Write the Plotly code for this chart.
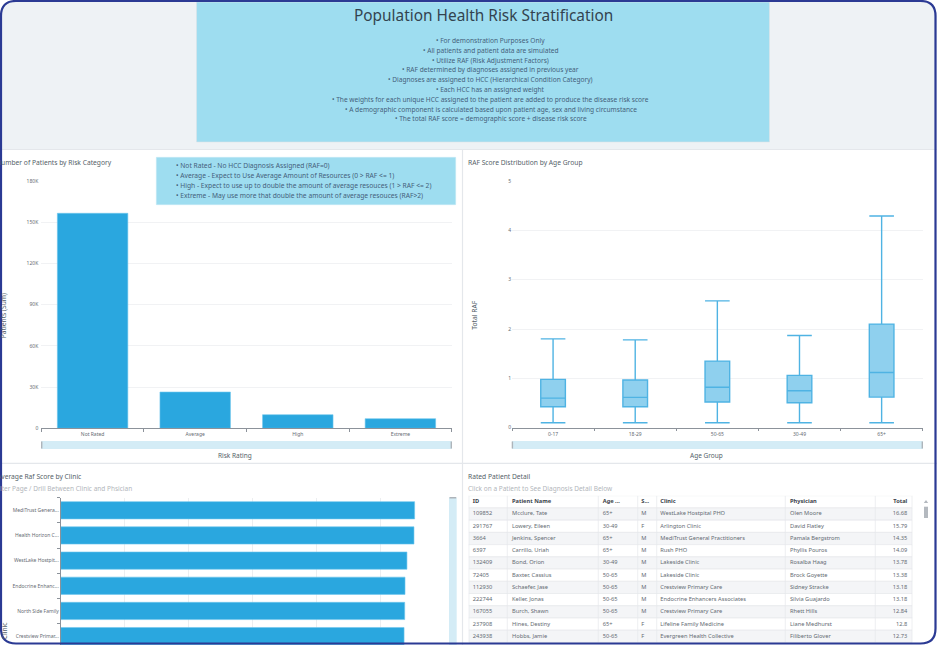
import plotly.graph_objects as go

W, H = 937, 645
FONT = "Noto Sans"

# ---------- data ----------
risk_categories = ["Not Rated", "Average", "High", "Extreme"]
risk_counts = [156500, 26400, 9900, 7000]
risk_ticks = [0, 30000, 60000, 90000, 120000, 150000, 180000]
risk_ticktext = ["0", "30K", "60K", "90K", "120K", "150K", "180K"]

age_groups = ["0-17", "18-29", "50-65", "30-49", "65+"]
raf_lower = [0.10, 0.10, 0.10, 0.10, 0.10]
raf_q1 = [0.425, 0.425, 0.52, 0.507, 0.62]
raf_median = [0.60, 0.615, 0.82, 0.75, 1.12]
raf_q3 = [0.98, 0.967, 1.35, 1.06, 2.10]
raf_upper = [1.80, 1.78, 2.57, 1.87, 4.29]

clinics = ["MediTrust Genera...", "Health Horizon C...", "WestLake Hostpit...",
           "Endocrine Enhanc...", "North Side Family", "Crestview Primar..."]
clinic_raf = [1.106, 1.104, 1.082, 1.076, 1.075, 1.073]

table_headers = ["ID", "Patient Name", "Age ...", "S...", "Clinic", "Physician", "Total"]
patient_ids = ["109852", "291767", "3664", "6397", "132409", "72405", "112930", "222744", "167055", "237908", "243938"]
patient_names = ["Mcclure, Tate", "Lowery, Eileen", "Jenkins, Spencer", "Carrillo, Uriah", "Bond, Orion", "Baxter, Cassius",
                 "Schaefer, Jase", "Keller, Jonas", "Burch, Shawn", "Hines, Destiny", "Hobbs, Jamie"]
patient_ages = ["65+", "30-49", "65+", "65+", "30-49", "50-65", "50-65", "50-65", "50-65", "65+", "50-65"]
patient_sex = ["M", "F", "M", "M", "M", "M", "M", "M", "M", "F", "F"]
patient_clinics = ["WestLake Hostpital PHO", "Arlington Clinic", "MediTrust General Practitioners", "Rush PHO",
                   "Lakeside Clinic", "Lakeside Clinic", "Crestview Primary Care", "Endocrine Enhancers Associates",
                   "Crestview Primary Care", "Lifeline Family Medicine", "Evergreen Health Collective"]
patient_physicians = ["Olen Moore", "David Flatley", "Pamala Bergstrom", "Phyllis Pouros", "Rosalba Haag", "Brock Goyette",
                      "Sidney Stracke", "Silvia Guajardo", "Rhett Hills", "Liane Medhurst", "Filiberto Glover"]
patient_totals = ["16.68", "15.79", "14.35", "14.09", "13.78", "13.38", "13.18", "13.18", "12.84", "12.8", "12.73"]

header_title = "Population Health Risk Stratification"
header_notes = [
    "• For demonstration Purposes Only",
    "• All patients and patient data are simulated",
    "• Utilize RAF (Risk Adjustment Factors)",
    "• RAF determined by diagnoses assigned in previous year",
    "• Diagnoses are assigned to HCC (Hierarchical Condition Category)",
    "• Each HCC has an assigned weight",
    "• The weights for each unique HCC assigned to the patient are added to produce the disease risk score",
    "• A demographic component is calculated based upon patient age, sex and living circumstance",
    "• The total RAF score = demographic score + disease risk score",
]
risk_notes = [
    "• Not Rated - No HCC Diagnosis Assigned (RAF=0)",
    "• Average - Expect to Use Average Amount of Resources (0 > RAF <= 1)",
    "• High - Expect to use up to double the amount of average resouces (1 > RAF <= 2)",
    "• Extreme - May use more that double the amount of average resouces (RAF>2)",
]

# ---------- style ----------
BAR = "#2AA7DF"
BAR_EDGE = "#6FC6EC"
BOX_FILL = "#8FD0EE"
BOX_LINE = "#4FB3E3"
NOTE_BG = "#9EDDF0"
PAGE_BG = "#EEF2F5"
DIVIDER = "#E4E7EB"
GRID = "#F1F2F4"
AXIS = "#8C929A"
TITLE_C = "#555F69"
SUB_C = "#B2B6BB"
TICK_C = "#666C73"
FRAME = "#2B3A94"
SCROLL = "#D4ECF6"
HANDLE = "#AEB4BA"


def px(x):
    return x / W


def py(y):
    return 1 - y / H


def dom_x(a, b):
    return [px(a), px(b)]


def dom_y(top, bottom):
    return [py(bottom), py(top)]


def rect(x0, y0, x1, y1, color, layer="below", line=None, lw=0):
    return dict(type="rect", xref="paper", yref="paper", x0=px(x0), x1=px(x1), y0=py(y0), y1=py(y1),
                fillcolor=color, line=dict(color=line or color, width=lw), layer=layer)


def ann(text, x, y, size, color, anchor="left", angle=0, family=FONT):
    return dict(text=text, x=px(x), y=py(y), xref="paper", yref="paper", xanchor=anchor, yanchor="middle",
                showarrow=False, textangle=angle, font=dict(family=family, size=size, color=color))


fig = go.Figure()

# Risk bars
fig.add_trace(go.Bar(x=risk_categories, y=risk_counts, marker=dict(color=BAR, line=dict(color=BAR_EDGE, width=0.6)),
                     xaxis="x", yaxis="y", showlegend=False))

# RAF box plot
fig.add_trace(go.Box(x=age_groups, q1=raf_q1, median=raf_median, q3=raf_q3, lowerfence=raf_lower, upperfence=raf_upper,
                     width=0.3, whiskerwidth=1, boxpoints=False, fillcolor=BOX_FILL,
                     line=dict(color=BOX_LINE, width=1.4), xaxis="x2", yaxis="y2", showlegend=False))

# Clinic bars
fig.add_trace(go.Bar(y=clinics, x=clinic_raf, orientation="h", marker=dict(color=BAR, line=dict(color=BAR_EDGE, width=0.6)),
                     xaxis="x3", yaxis="y3", showlegend=False))

# Patient table drawn as text columns on its own axes
col_edges = [468.7, 507.3, 598.3, 637.7, 656.7, 785.3, 875.3, 912.3]
col_text_x = [472.7, 512, 602.7, 641.3, 660.3, 790, 907.3]
columns = [patient_ids, patient_names, patient_ages, patient_sex, patient_clinics, patient_physicians, patient_totals]
n_rows = len(patient_ids)
for i, col in enumerate(columns):
    pos = "middle left" if i == 6 else "middle right"
    fig.add_trace(go.Scatter(x=[col_text_x[i]] * n_rows, y=list(range(n_rows)), text=col, mode="text", textposition=pos,
                             textfont=dict(family=FONT, size=5.7, color="#646B73"), xaxis="x4", yaxis="y4",
                             hoverinfo="skip", showlegend=False))
    fig.add_trace(go.Scatter(x=[col_text_x[i]], y=[-1], text=["<b>%s</b>" % table_headers[i]], mode="text", textposition=pos,
                             textfont=dict(family=FONT, size=5.7, color="#3C434B"), xaxis="x4", yaxis="y4",
                             hoverinfo="skip", showlegend=False))

shapes = [
    rect(0, 0, W, H, "#FFFFFF"),
    rect(0, 0, W, 149, PAGE_BG),
    rect(196.5, 2, 769.5, 142, NOTE_BG, line="#DCE3E8", lw=0.6),
    dict(type="line", xref="paper", yref="paper", x0=0, x1=1, y0=py(149.5), y1=py(149.5), line=dict(color=DIVIDER, width=1.2), layer="below"),
    dict(type="line", xref="paper", yref="paper", x0=0, x1=1, y0=py(463.3), y1=py(463.3), line=dict(color=DIVIDER, width=1.2), layer="below"),
    dict(type="line", xref="paper", yref="paper", x0=px(462.5), x1=px(462.5), y0=0, y1=py(149.5), line=dict(color=DIVIDER, width=1.2), layer="below"),
    # slider strips below the top charts
    rect(41.3, 441, 451.7, 449, SCROLL),
    rect(41, 441.5, 42.4, 448.5, HANDLE),
    rect(450.6, 441.5, 452, 448.5, HANDLE),
    rect(512, 441, 922.7, 449, SCROLL),
    rect(511.7, 441.5, 513.1, 448.5, HANDLE),
    rect(921.6, 441.5, 923, 448.5, HANDLE),
    # slider strip beside the clinic bars
    rect(449, 497.5, 456.7, 645, SCROLL),
    rect(449.5, 497, 456.2, 498.5, HANDLE),
    # table scrollbar
    rect(924, 506.7, 928, 518, "#B4B9BF"),
    dict(type="path", xref="paper", yref="paper", layer="below", fillcolor="#B4B9BF", line=dict(width=0),
         path="M %f %f L %f %f L %f %f Z" % (px(923.8), py(503), px(928.2), py(503), px(926), py(500))),
    # legend note box over the bar chart
    rect(156.3, 157.3, 455.7, 204.7, NOTE_BG, layer="above", line="#C4E9F4", lw=0.5),
]

# Table stripes and cell borders
row_top, row_bottom = -1.5, n_rows - 0.5
for r in range(-1, n_rows):
    shapes.append(dict(type="rect", xref="x4", yref="y4", x0=col_edges[0], x1=col_edges[-1], y0=r - 0.5, y1=r + 0.5,
                       fillcolor="#FFFFFF" if r % 2 else "#F4F5F7", line=dict(color="#E6E8EB", width=0.7), layer="below"))
for edge in col_edges:
    shapes.append(dict(type="line", xref="x4", yref="y4", x0=edge, x1=edge, y0=row_top, y1=row_bottom,
                       line=dict(color="#E6E8EB", width=0.7), layer="below"))

# Rounded outer frame with white corners
r = 15
inset = 1
L, T, R, B = inset, inset, W - inset - 0.5, H - inset - 0.5


def corner(x0, y0, xa, ya, xb, yb, xc, yc):
    return dict(type="path", xref="paper", yref="paper", layer="above", fillcolor="#FFFFFF", line=dict(width=0),
                path="M %f %f L %f %f Q %f %f %f %f Z" % (px(x0), py(y0), px(xa), py(ya), px(xc), py(yc), px(xb), py(yb)))


shapes += [
    corner(0, 0, 0, T + r, T + r, 0, L, T),
    corner(W, 0, W, T + r, R - r, 0, R, T),
    corner(0, H, 0, B - r, L + r, H, L, B),
    corner(W, H, W, B - r, R - r, H, R, B),
]
frame_path = ("M %f %f L %f %f Q %f %f %f %f L %f %f Q %f %f %f %f L %f %f Q %f %f %f %f L %f %f Q %f %f %f %f Z" % (
    px(L + r), py(T), px(R - r), py(T), px(R), py(T), px(R), py(T + r),
    px(R), py(B - r), px(R), py(B), px(R - r), py(B),
    px(L + r), py(B), px(L), py(B), px(L), py(B - r),
    px(L), py(T + r), px(L), py(T), px(L + r), py(T)))
shapes.append(dict(type="path", xref="paper", yref="paper", layer="above", path=frame_path,
                   fillcolor="rgba(0,0,0,0)", line=dict(color=FRAME, width=2.2)))

annotations = [ann(header_title, 483, 15.5, 15.4, "#33434F", "center")]
note_y = [40.7, 50, 60.3, 70, 79.7, 89, 99.7, 109, 118.7]
for text, y in zip(header_notes, note_y):
    annotations.append(ann(text, 490.5, y, 6.6, "#44607A", "center"))
for text, y in zip(risk_notes, [165.7, 175.3, 185, 195]):
    annotations.append(ann(text, 173.5, y, 6.7, "#44607A"))

annotations += [
    ann("Number of Patients by Risk Category", -6.5, 162, 6.7, TITLE_C),
    ann("RAF Score Distribution by Age Group", 466, 162, 6.7, TITLE_C),
    ann("Average Raf Score by Clinic", -5.5, 476.7, 6.7, TITLE_C),
    ann("Filter Page / Drill Between Clinic and Phsician", -7, 488.7, 6.5, SUB_C),
    ann("Rated Patient Detail", 466, 476.3, 6.7, TITLE_C),
    ann("Click on a Patient to See Diagnosis Detail Below", 466, 488.7, 6.5, SUB_C),
    ann("Risk Rating", 235, 455, 6.5, TITLE_C, "center"),
    ann("Age Group", 706, 455, 6.5, TITLE_C, "center"),
    ann("Total RAF", 473.7, 315, 6.7, TITLE_C, "center", angle=-90),
    ann("Patients (Sum)", 4.2, 316, 6.7, TITLE_C, "center", angle=-90),
    ann("Clinic", 4.2, 631, 6.7, TITLE_C, "center", angle=-90),
]

tickfont = dict(family=FONT, size=5, color=TICK_C)
fig.update_layout(
    width=W, height=H, margin=dict(l=0, r=0, t=0, b=0, pad=0, autoexpand=False), autosize=False,
    paper_bgcolor="#FFFFFF", plot_bgcolor="rgba(0,0,0,0)", bargap=0.313,
    shapes=shapes, annotations=annotations, font=dict(family=FONT), showlegend=False,
    xaxis=dict(domain=dom_x(41.3, 451.7), anchor="y", range=[-0.5, 3.5], showgrid=False, tickson="boundaries", ticks="outside",
               ticklen=2.5, tickcolor=AXIS, showline=True, linecolor=AXIS, linewidth=0.8, tickfont=tickfont, fixedrange=True,
               ticklabelstandoff=1),
    yaxis=dict(domain=dom_y(181, 428.3), anchor="x", range=[0, 180000], tickvals=risk_ticks, ticktext=risk_ticktext,
               gridcolor=GRID, zeroline=False, showline=False, ticks="", tickfont=tickfont, fixedrange=True,
               ticklabelstandoff=2),
    xaxis2=dict(domain=dom_x(512, 922.7), anchor="y2", range=[-0.5, 4.5], showgrid=False, tickson="boundaries", ticks="outside",
                ticklen=2.5, tickcolor=AXIS, showline=True, linecolor=AXIS, linewidth=0.8, tickfont=tickfont, fixedrange=True,
                categoryorder="array", categoryarray=age_groups, ticklabelstandoff=1),
    yaxis2=dict(domain=dom_y(181, 427.7), anchor="x2", range=[0, 5], dtick=1, gridcolor=GRID, zeroline=False, showline=False,
                ticks="", tickfont=tickfont, fixedrange=True),
    xaxis3=dict(domain=dom_x(60.7, 444.7), anchor="y3", range=[0, 1.2], dtick=0.2, gridcolor="#ECEEF0", zeroline=False,
                showticklabels=False, ticks="", fixedrange=True),
    yaxis3=dict(domain=dom_y(497.7, 645), anchor="x3", range=[5.353, -0.5], tickson="boundaries", ticks="outside", ticklen=3,
                tickcolor=AXIS, showline=True, linecolor=AXIS, linewidth=0.8, showgrid=False, tickfont=tickfont, fixedrange=True,
                type="category", categoryorder="array", categoryarray=clinics),
    xaxis4=dict(domain=dom_x(468.7, 912.3), anchor="y4", range=[468.7, 912.3], visible=False, fixedrange=True),
    yaxis4=dict(domain=dom_y(495.7, 645), anchor="x4", range=[10.71, -1.5], visible=False, fixedrange=True),
)

fig.write_html("out.html", config=dict(displayModeBar=False),
               post_script="document.body.style.margin='0';document.body.style.overflow='hidden';")
